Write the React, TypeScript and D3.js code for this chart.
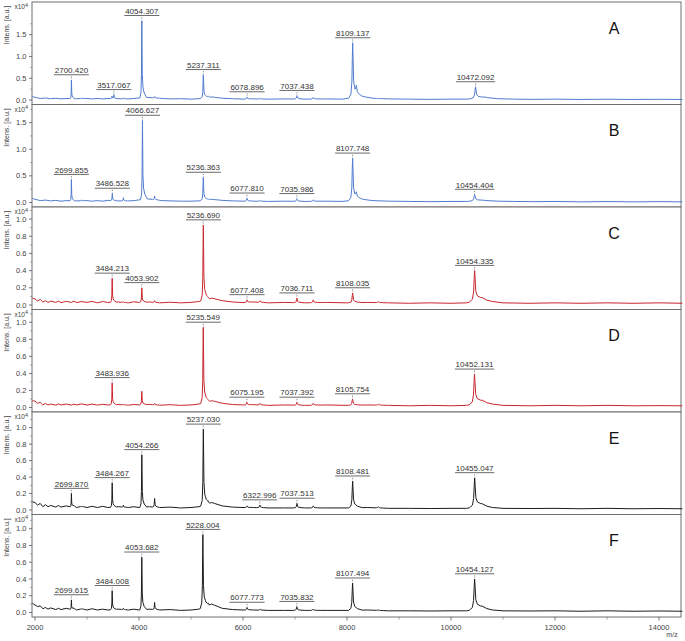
import React from "react";
import * as d3 from "d3";

// ---------------- DATA ----------------
const panelLetters = ["A", "B", "C", "D", "E", "F"];
const mzDomain = [1942, 14423];
const xTickValues = [2000, 4000, 6000, 8000, 10000, 12000, 14000];
const xMinorTickValues = [3000, 5000, 7000, 9000, 11000, 13000];
const yTopValues = [2.25, 1.84, 1.14, 1.15, 1.19, 1.17];
const yTicksAB = [0, 0.5, 1.0, 1.5];
const yTicksCF = [0, 0.2, 0.4, 0.6, 0.8, 1.0];
const yAxisTitle = "Intens. [a.u.]";
const xAxisTitle = "m/z";

// [m/z, intensity (x10^4), labelled 1/0]
const peaksA = [
  [2700.420, 0.46, 1], [2905, 0.05, 0], [3480, 0.09, 0], [3517.067, 0.12, 1], [3700, 0.05, 0],
  [4054.307, 1.82, 1], [4300, 0.08, 0], [5237.311, 0.58, 1], [5330, 0.08, 0], [6078.896, 0.07, 1],
  [6330, 0.04, 0], [7037.438, 0.1, 1], [7350, 0.06, 0], [8109.137, 1.31, 1], [8180, 0.22, 0],
  [8600, 0.03, 0], [10472.092, 0.3, 1],
];
const peaksB = [
  [2699.855, 0.43, 1], [2900, 0.05, 0], [3486.528, 0.17, 1], [3700, 0.09, 0], [4066.627, 1.54, 1],
  [4300, 0.12, 0], [5236.363, 0.47, 1], [5330, 0.06, 0], [6077.810, 0.08, 1], [6330, 0.04, 0],
  [7035.986, 0.07, 1], [7350, 0.05, 0], [8107.748, 0.83, 1], [8180, 0.13, 0], [10454.404, 0.15, 1],
];
const peaksC = [
  [3484.213, 0.31, 1], [3700, 0.04, 0], [4053.902, 0.2, 1], [4300, 0.05, 0], [5236.690, 0.93, 1],
  [5330, 0.07, 0], [6077.408, 0.06, 1], [6330, 0.05, 0], [7036.711, 0.08, 1], [7350, 0.06, 0],
  [8108.035, 0.14, 1], [8600, 0.04, 0], [10454.335, 0.4, 1],
];
const peaksD = [
  [3483.936, 0.29, 1], [3700, 0.04, 0], [4053.5, 0.19, 0], [4300, 0.05, 0], [5235.549, 0.94, 1],
  [5330, 0.07, 0], [6075.195, 0.06, 1], [6330, 0.05, 0], [7037.392, 0.06, 1], [7350, 0.05, 0],
  [8105.754, 0.1, 1], [8600, 0.04, 0], [10452.131, 0.39, 1],
];
const peaksE = [
  [2699.870, 0.2, 1], [2900, 0.04, 0], [3484.267, 0.33, 1], [3700, 0.06, 0], [4054.266, 0.67, 1],
  [4300, 0.14, 0], [5237.030, 0.98, 1], [5330, 0.09, 0], [6077, 0.05, 0], [6322.996, 0.06, 1],
  [7037.513, 0.08, 1], [7350, 0.05, 0], [8108.481, 0.35, 1], [8600, 0.04, 0], [10455.047, 0.39, 1],
];
const peaksF = [
  [2699.615, 0.15, 1], [2900, 0.04, 0], [3484.008, 0.26, 1], [3700, 0.05, 0], [4053.682, 0.66, 1],
  [4300, 0.12, 0], [5228.004, 0.93, 1], [5330, 0.1, 0], [6077.773, 0.06, 1], [6330, 0.04, 0],
  [7035.832, 0.07, 1], [7350, 0.04, 0], [8107.494, 0.35, 1], [8600, 0.03, 0], [10454.127, 0.4, 1],
];

// baseline [m/z, intensity]
const baseA = [
  [1950, 0.08], [2000, 0.06], [2050, 0.05], [2100, 0.035], [2200, 0.045], [2300, 0.03], [2400, 0.04],
  [2500, 0.025], [2600, 0.035], [2800, 0.03], [3000, 0.035], [3100, 0.025], [3200, 0.035], [3300, 0.025],
  [3400, 0.035], [3600, 0.03], [3800, 0.025], [3900, 0.035], [4150, 0.06], [4450, 0.035], [4600, 0.025],
  [4800, 0.03], [5000, 0.02], [5150, 0.03], [5400, 0.07], [5600, 0.04], [5800, 0.03], [6000, 0.02],
  [6200, 0.025], [6500, 0.02], [6800, 0.025], [7200, 0.02], [7600, 0.025], [7900, 0.02], [8300, 0.08],
  [8500, 0.04], [8800, 0.025], [9200, 0.02], [9600, 0.015], [10000, 0.02], [10300, 0.02], [10650, 0.06],
  [10900, 0.03], [11200, 0.02], [11600, 0.015], [12000, 0.02], [12500, 0.012], [13000, 0.018],
  [13500, 0.012], [14000, 0.016], [14450, 0.012],
];
const baseB = [
  [1950, 0.08], [2000, 0.06], [2050, 0.05], [2100, 0.035], [2200, 0.045], [2300, 0.03], [2400, 0.04],
  [2500, 0.025], [2600, 0.035], [2800, 0.03], [3000, 0.035], [3100, 0.025], [3200, 0.035], [3300, 0.025],
  [3400, 0.04], [3600, 0.03], [3800, 0.03], [3900, 0.035], [4150, 0.07], [4450, 0.035], [4600, 0.03],
  [4800, 0.025], [5000, 0.025], [5150, 0.03], [5400, 0.06], [5600, 0.04], [5800, 0.03], [6000, 0.025],
  [6200, 0.025], [6500, 0.02], [6800, 0.025], [7200, 0.02], [7600, 0.025], [7900, 0.02], [8300, 0.06],
  [8500, 0.035], [8800, 0.025], [9200, 0.02], [9600, 0.015], [10000, 0.02], [10300, 0.02], [10600, 0.04],
  [10900, 0.025], [11200, 0.02], [11600, 0.015], [12000, 0.02], [12500, 0.012], [13000, 0.018],
  [13500, 0.012], [14000, 0.016], [14450, 0.012],
];
const baseC = [
  [1950, 0.08], [2000, 0.07], [2050, 0.045], [2100, 0.065], [2150, 0.035], [2200, 0.05], [2250, 0.03],
  [2300, 0.045], [2400, 0.03], [2450, 0.045], [2500, 0.028], [2600, 0.042], [2700, 0.03], [2750, 0.045],
  [2800, 0.028], [2900, 0.04], [3000, 0.03], [3100, 0.042], [3200, 0.025], [3300, 0.04], [3400, 0.03],
  [3600, 0.035], [3800, 0.025], [3900, 0.037], [4000, 0.03], [4200, 0.035], [4400, 0.025], [4600, 0.032],
  [4800, 0.025], [5000, 0.03], [5150, 0.04], [5400, 0.08], [5600, 0.05], [5800, 0.035], [6000, 0.028],
  [6200, 0.035], [6500, 0.025], [6800, 0.03], [7200, 0.025], [7600, 0.03], [8000, 0.025], [8400, 0.03],
  [8800, 0.025], [9200, 0.02], [9600, 0.025], [10000, 0.02], [10300, 0.025], [10600, 0.07], [10800, 0.04],
  [11000, 0.025], [11500, 0.02], [12000, 0.025], [12500, 0.02], [13000, 0.025], [13500, 0.02],
  [14000, 0.025], [14450, 0.02],
];
const baseD = [
  [1950, 0.08], [2000, 0.075], [2050, 0.05], [2100, 0.06], [2150, 0.03], [2200, 0.048], [2250, 0.03],
  [2300, 0.04], [2400, 0.028], [2450, 0.042], [2500, 0.03], [2600, 0.04], [2700, 0.028], [2750, 0.04],
  [2800, 0.03], [2900, 0.042], [3000, 0.028], [3100, 0.04], [3200, 0.028], [3300, 0.038], [3400, 0.03],
  [3600, 0.035], [3800, 0.027], [3900, 0.036], [4000, 0.03], [4200, 0.036], [4400, 0.027], [4600, 0.033],
  [4800, 0.025], [5000, 0.03], [5150, 0.04], [5400, 0.08], [5600, 0.05], [5800, 0.035], [6000, 0.03],
  [6200, 0.033], [6500, 0.025], [6800, 0.03], [7200, 0.025], [7600, 0.03], [8000, 0.025], [8400, 0.03],
  [8800, 0.025], [9200, 0.02], [9600, 0.025], [10000, 0.02], [10300, 0.025], [10600, 0.07], [10800, 0.04],
  [11000, 0.025], [11500, 0.02], [12000, 0.025], [12500, 0.02], [13000, 0.025], [13500, 0.02],
  [14000, 0.022], [14450, 0.02],
];
const baseE = [
  [1950, 0.1], [2000, 0.09], [2050, 0.06], [2100, 0.08], [2150, 0.04], [2200, 0.065], [2250, 0.04],
  [2300, 0.055], [2400, 0.035], [2450, 0.055], [2500, 0.035], [2600, 0.05], [2700, 0.035], [2750, 0.05],
  [2800, 0.03], [2900, 0.045], [3000, 0.03], [3100, 0.045], [3200, 0.03], [3300, 0.045], [3400, 0.03],
  [3600, 0.04], [3800, 0.03], [3900, 0.04], [4000, 0.03], [4200, 0.04], [4400, 0.03], [4600, 0.035],
  [4800, 0.025], [5000, 0.03], [5150, 0.04], [5400, 0.09], [5600, 0.05], [5800, 0.035], [6000, 0.03],
  [6200, 0.03], [6500, 0.025], [6800, 0.025], [7200, 0.025], [7600, 0.025], [8000, 0.025], [8400, 0.03],
  [8800, 0.02], [9200, 0.02], [9600, 0.018], [10000, 0.02], [10300, 0.02], [10600, 0.06], [10800, 0.03],
  [11000, 0.02], [11500, 0.018], [12000, 0.02], [12500, 0.015], [13000, 0.02], [13500, 0.015],
  [14000, 0.018], [14450, 0.015],
];
const baseF = [
  [1950, 0.11], [2000, 0.09], [2050, 0.07], [2100, 0.08], [2150, 0.045], [2200, 0.06], [2250, 0.04],
  [2300, 0.055], [2400, 0.035], [2450, 0.05], [2500, 0.035], [2600, 0.05], [2700, 0.035], [2750, 0.05],
  [2800, 0.03], [2900, 0.045], [3000, 0.03], [3100, 0.045], [3200, 0.03], [3300, 0.04], [3400, 0.03],
  [3600, 0.04], [3800, 0.03], [3900, 0.04], [4000, 0.03], [4200, 0.04], [4400, 0.03], [4600, 0.035],
  [4800, 0.025], [5000, 0.03], [5150, 0.04], [5400, 0.1], [5600, 0.05], [5800, 0.035], [6000, 0.03],
  [6200, 0.03], [6500, 0.025], [6800, 0.025], [7200, 0.025], [7600, 0.025], [8000, 0.025], [8400, 0.03],
  [8800, 0.02], [9200, 0.02], [9600, 0.018], [10000, 0.02], [10300, 0.02], [10600, 0.06], [10800, 0.03],
  [11000, 0.02], [11500, 0.018], [12000, 0.02], [12500, 0.015], [13000, 0.02], [13500, 0.015],
  [14000, 0.018], [14450, 0.015],
];

const peakSets = [peaksA, peaksB, peaksC, peaksD, peaksE, peaksF];
const baseSets = [baseA, baseB, baseC, baseD, baseE, baseF];
const yTickSets = [yTicksAB, yTicksAB, yTicksCF, yTicksCF, yTicksCF, yTicksCF];

// ---------------- STYLE / LAYOUT ----------------
const W = 685;
const H = 641;
const X0 = 32;
const X1 = 681;
const TOP0 = 2;
const PANEL_H = 102.5;
const ZERO_OFF = 4.5;
const lineColors = ["#4f7bd0", "#4f7bd0", "#c9262e", "#c9262e", "#1c1c1c", "#1c1c1c"];
const FONT = "'Liberation Sans', Arial, sans-serif";
const PROFILE = [
  [-3, 0], [-1.3, 0.07], [-0.6, 0.3], [-0.25, 0.75], [0, 1], [0.3, 0.7], [0.7, 0.3],
  [1.6, 0.14], [3.5, 0.06], [7, 0],
];
const WIDTH_FRAC = 0.0032;

function interp(pts: number[][], x: number): number {
  if (x <= pts[0][0]) return pts[0][1];
  if (x >= pts[pts.length - 1][0]) return pts[pts.length - 1][1];
  for (let i = 1; i < pts.length; i++) {
    if (x <= pts[i][0]) {
      const [x0, y0] = pts[i - 1];
      const [x1, y1] = pts[i];
      return y0 + ((y1 - y0) * (x - x0)) / (x1 - x0);
    }
  }
  return 0;
}

function buildSpectrum(peaks: number[][], base: number[][]) {
  const xs: number[] = base.map((b) => b[0]);
  peaks.forEach(([mz]) => {
    const w = mz * WIDTH_FRAC;
    PROFILE.forEach(([o]) => xs.push(mz + o * w));
  });
  xs.sort((a, b) => a - b);
  const uniq = xs.filter((v, i) => i === 0 || v - xs[i - 1] > 1e-6);
  return uniq.map((x) => {
    let v = interp(base, x);
    peaks.forEach(([mz, h]) => {
      const w = mz * WIDTH_FRAC;
      const o = (x - mz) / w;
      if (o > PROFILE[0][0] && o < PROFILE[PROFILE.length - 1][0]) {
        v += (h - interp(base, mz)) * interp(PROFILE, o);
      }
    });
    return [x, v];
  });
}

export default function App() {
  const x = d3.scaleLinear().domain(mzDomain).range([X0, X1]);
  const panels = panelLetters.map((letter, i) => {
    const top = TOP0 + i * PANEL_H;
    const bottom = top + PANEL_H;
    const y = d3.scaleLinear().domain([0, yTopValues[i]]).range([bottom - ZERO_OFF, top]);
    const spec = buildSpectrum(peakSets[i], baseSets[i]);
    const line = d3
      .line<number[]>()
      .x((d) => x(d[0]))
      .y((d) => y(d[1]));
    const ticks = yTickSets[i];
    const step = ticks[1] - ticks[0];
    const minor = ticks.map((t) => t + step / 2).filter((t) => y(t) > top + 3);
    return (
      <g key={letter}>
        <rect x={X0} y={top} width={X1 - X0} height={PANEL_H} fill="white" stroke="#6e6e6e" strokeWidth={1} />
        <path d={line(spec) || ""} fill="none" stroke={lineColors[i]} strokeWidth={1} strokeLinejoin="round" />
        {ticks.map((t) => (
          <g key={t}>
            <line x1={X0 - 3} x2={X0} y1={y(t)} y2={y(t)} stroke="#555" strokeWidth={0.8} />
            <text x={X0 - 5.5} y={y(t)} dy="0.35em" textAnchor="end" fontSize={7.5} fill="#444" fontFamily={FONT}>
              {t.toFixed(1)}
            </text>
          </g>
        ))}
        {minor.map((t) => (
          <line key={"m" + t} x1={X0 - 2} x2={X0} y1={y(t)} y2={y(t)} stroke="#777" strokeWidth={0.6} />
        ))}
        <text x={28} y={top + 7} textAnchor="end" fontSize={6.5} fill="#444" fontFamily={FONT}>
          x10<tspan dy={-2.5} fontSize={5.5}>4</tspan>
        </text>
        <text
          transform={`translate(8.5, ${top + 23}) rotate(-90)`}
          textAnchor="middle"
          fontSize={7}
          fill="#444"
          fontFamily={FONT}
        >
          {yAxisTitle}
        </text>
        <text x={614} y={top + 31.5} textAnchor="middle" fontSize={16} fill="#111" fontFamily={FONT}>
          {letter}
        </text>
        {peakSets[i]
          .filter((p) => p[2] === 1)
          .map(([mz, h]) => {
            const px = x(mz);
            const py = y(h);
            const label = mz.toFixed(3);
            const half = (label.length * 4.25 + 1) / 2;
            return (
              <g key={"p" + mz}>
                <text x={px} y={py - 7} textAnchor="middle" fontSize={8} fill="#333" fontFamily={FONT}>
                  {label}
                </text>
                <line x1={px - half} x2={px + half} y1={py - 5.2} y2={py - 5.2} stroke="#444" strokeWidth={0.8} />
                <line x1={px} x2={px} y1={py - 3.5} y2={py - 1} stroke="#555" strokeWidth={0.8} strokeDasharray="1,1" />
              </g>
            );
          })}
      </g>
    );
  });
  const axisY = TOP0 + 6 * PANEL_H;
  return (
    <svg width={W} height={H} style={{ position: "absolute", left: 0, top: 0, background: "white" }}>
      {panels}
      {xTickValues.map((t) => (
        <g key={t}>
          <line x1={x(t)} x2={x(t)} y1={axisY} y2={axisY + 3.5} stroke="#555" strokeWidth={0.8} />
          <text x={x(t)} y={axisY + 13} textAnchor="middle" fontSize={7.5} fill="#444" fontFamily={FONT}>
            {t}
          </text>
        </g>
      ))}
      {xMinorTickValues.map((t) => (
        <line key={t} x1={x(t)} x2={x(t)} y1={axisY} y2={axisY + 2.5} stroke="#777" strokeWidth={0.7} />
      ))}
      <text x={672} y={axisY + 20} textAnchor="middle" fontSize={7} fill="#444" fontFamily={FONT}>
        {xAxisTitle}
      </text>
    </svg>
  );
}
